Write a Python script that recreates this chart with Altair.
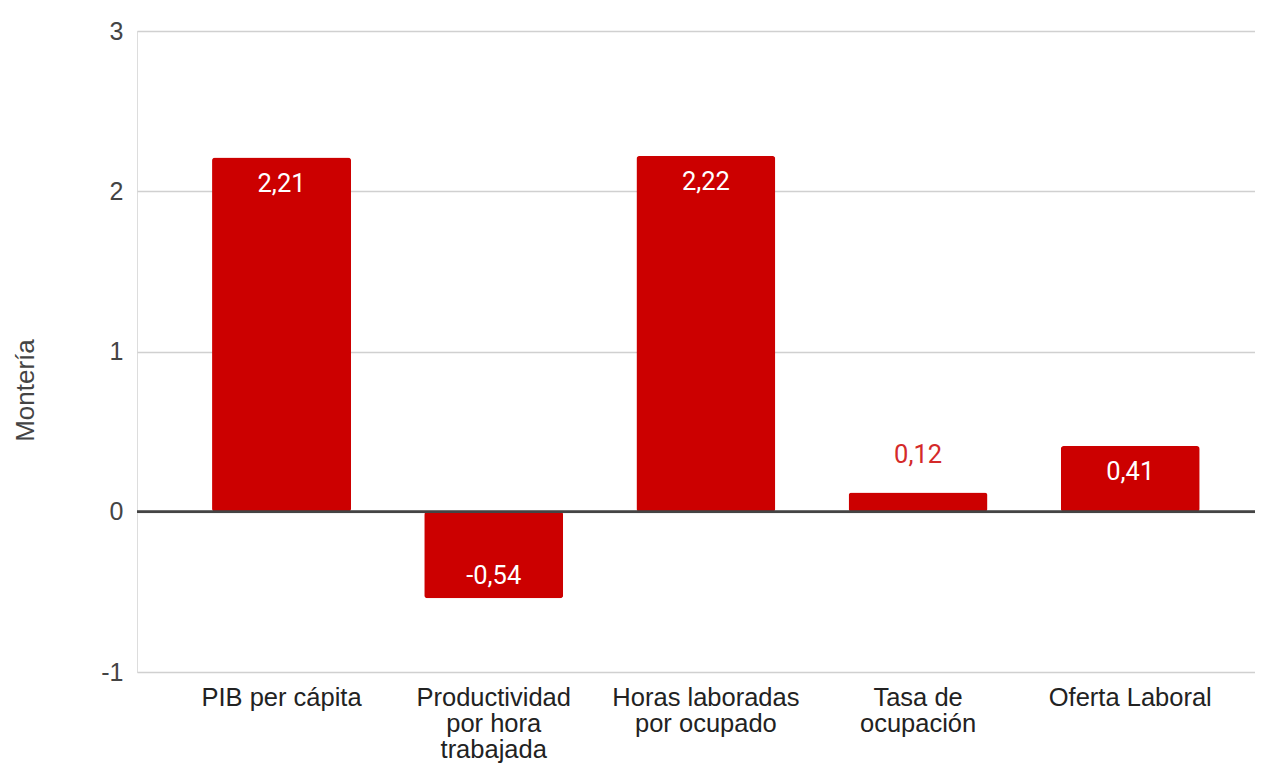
import altair as alt
import pandas as pd

categories = ["PIB per cápita", "Productividad por hora trabajada",
              "Horas laboradas por ocupado", "Tasa de ocupación", "Oferta Laboral"]
values = [2.21, -0.54, 2.22, 0.12, 0.41]
label_lines = [["PIB per cápita"], ["Productividad", "por hora", "trabajada"],
               ["Horas laboradas", "por ocupado"], ["Tasa de", "ocupación"], ["Oferta Laboral"]]
y_ticks = [-1, 0, 1, 2, 3]

df = pd.DataFrame({"cat": categories, "value": values})

# label expression for wrapped category names
expr = "datum.label"
for name, lines in zip(categories, label_lines):
    arr = "[" + ",".join("'" + l + "'" for l in lines) + "]"
    expr = f"datum.label == '{name}' ? {arr} : ({expr})"

RED = "#cc0000"
FONT_AX = "Liberation Sans"
FONT_LB = "Roboto"

x = alt.X("cat:N", sort=categories, title=None,
          scale=alt.Scale(paddingInner=0.345, paddingOuter=0.307, align=0.576),
          axis=alt.Axis(domain=False, ticks=False, labelAngle=0, labelPadding=13,
                        labelBaseline="top", labelFontSize=25.5, labelFont=FONT_AX,
                        labelColor="#222222", labelLineHeight=26, labelLimit=400,
                        labelExpr=expr))
y = alt.Y("value:Q", title="Montería",
          scale=alt.Scale(domain=[-1, 3], nice=False),
          axis=alt.Axis(values=y_ticks, domain=False, ticks=False, labelPadding=14,
                        labelFontSize=25, labelFont=FONT_AX, labelColor="#444444",
                        labelExpr="toString(datum.value)",
                        gridColor="#d0d0d0", gridWidth=1.5,
                        titleFont=FONT_AX, titleFontSize=26, titleFontWeight="normal",
                        titleColor="#444444", titleAngle=270, titleX=-112, titleY=359,
                        titleAlign="center", titleBaseline="middle"))

base = alt.Chart(df)

bars = base.mark_bar(color=RED, cornerRadius=3).encode(x=x, y=y)

zero = base.mark_rule(color="#444444", strokeWidth=2).encode(y=alt.datum(0))

txt = base.transform_calculate(
    txt="replace(replace(format(datum.value, '.2f'), '.', ','), '\u2212', '-')"
)

lab_pos = txt.transform_filter("datum.value >= 0.3").mark_text(
    color="white", font=FONT_LB, fontSize=25.5, baseline="alphabetic", dy=34
).encode(x=alt.X("cat:N", sort=categories), y="value:Q", text="txt:N")

lab_neg = txt.transform_filter("datum.value < 0").mark_text(
    color="white", font=FONT_LB, fontSize=25.5, baseline="alphabetic", dy=-14
).encode(x=alt.X("cat:N", sort=categories), y="value:Q", text="txt:N")

lab_out = txt.transform_filter("datum.value >= 0 && datum.value < 0.3").mark_text(
    color="#d42a2a", font=FONT_LB, fontSize=25.5, baseline="alphabetic", dy=-30
).encode(x=alt.X("cat:N", sort=categories), y="value:Q", text="txt:N")

chart = alt.layer(bars, zero, lab_pos, lab_neg, lab_out).properties(
    width=1118, height=641,
    autosize=alt.AutoSizeParams(type="none"),
    padding={"left": 129, "top": 23, "right": 0, "bottom": 92},
).configure_view(stroke=None).configure(background="white")

chart.save("out.html", embed_options={"renderer": "svg", "actions": False})
